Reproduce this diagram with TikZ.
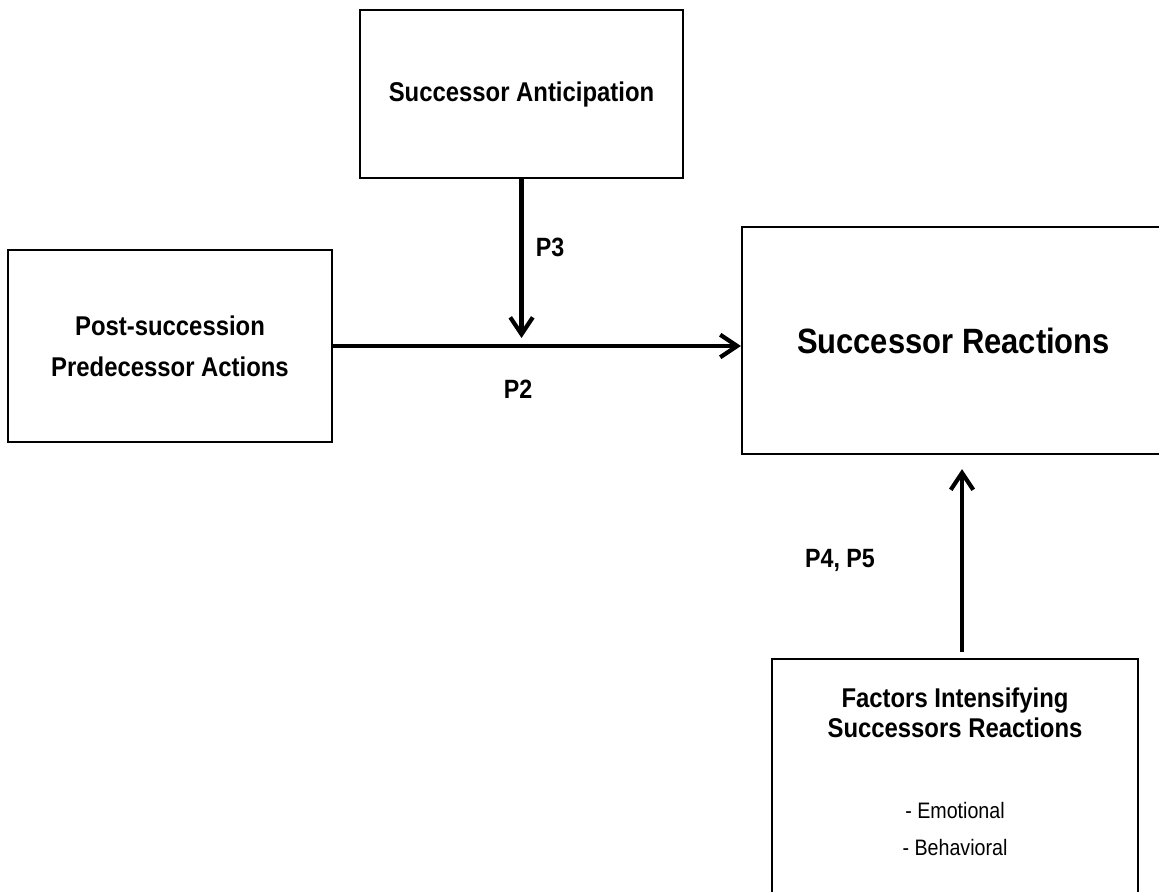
\documentclass[tikz,border=0pt]{standalone}
\usepackage{fontspec}
\setmainfont{Liberation Sans}[FakeStretch=0.88]
\usetikzlibrary{arrows.meta,positioning,calc}
\newcommand{\px}{0.025cm}

\begin{document}
\begin{tikzpicture}[x=\px,y=-\px,
  box/.style={draw,line width=1.6pt,align=center,inner sep=0pt,font=\bfseries\fontsize{19.3}{29}\selectfont},
  arr/.style={-{Straight Barb[length=12pt,width=16pt]},line width=3pt},
  plab/.style={font=\bfseries\fontsize{18.8}{22}\selectfont,inner sep=0pt}]
  \useasboundingbox (0,0) rectangle (1159,892);
  \clip (0,0) rectangle (1159,892);
  % the four boxes
  \node[box,minimum width=323*\px,minimum height=168*\px] (ant) at (521.5,94) {Successor Anticipation};
  \node[box,minimum width=324*\px,minimum height=192*\px] (post) at (170,346) {Post-succession\\Predecessor Actions};
  \node[box,minimum width=423*\px,minimum height=227*\px,font=\bfseries\fontsize{25}{30}\selectfont] (react) at (953.5,340.5) {Successor Reactions};
  \node[box,minimum width=366*\px,minimum height=300*\px,anchor=north] (fac) at (955,658) {};
  \node[font=\bfseries\fontsize{19.3}{21.3}\selectfont,align=center,inner sep=0pt,anchor=base] (factitle) at (955,737) {Factors Intensifying\\Successors Reactions};
  \node[font=\fontsize{15.9}{26}\selectfont,align=center,inner sep=0pt,anchor=base] (facitems) at (955,855) {- Emotional\\- Behavioral};
  % arrows
  \coordinate (meet) at (521.5,338);
  \draw[arr] (post.east) -- (post.east -| react.west);
  \draw[arr] (ant.south) -- (meet);
  \draw[arr] ($(fac.north)+(7,-6)$) coordinate (up0) -- ($(up0 |- react.south)+(0,14)$);
  % labels
  \node[plab] (p3) at (550,247) {P3};
  \node[plab] (p2) at (518,389) {P2};
  \node[plab] (p45) at (840,560) {P4, P5};
\end{tikzpicture}
\end{document}
